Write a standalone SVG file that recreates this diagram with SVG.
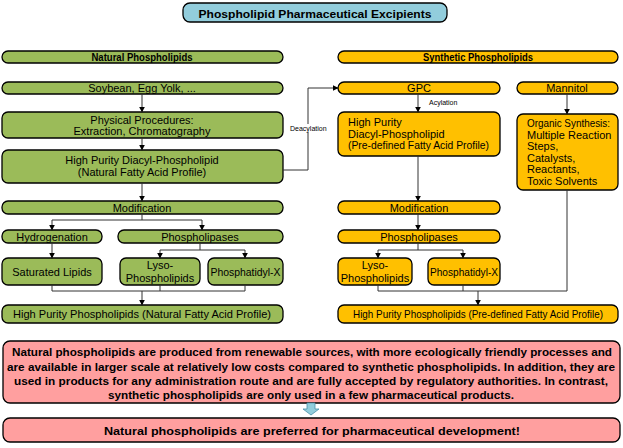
<svg xmlns="http://www.w3.org/2000/svg" width="623" height="448" viewBox="0 0 623 448">
<style>
text{font-family:"Liberation Sans",Arial,sans-serif;font-size:11px;fill:#000;text-anchor:middle}
.g{fill:#9BBB59;stroke:#000;stroke-width:1.3}
.o{fill:#FFC000;stroke:#000;stroke-width:1.3}
.r{fill:#FF9F9F;stroke:#000;stroke-width:1.3}
.b{font-weight:bold}
.l{text-anchor:start}
.c path{fill:none;stroke:#333;stroke-width:1}
.s{font-size:7px}
</style>
<defs><marker id="a" viewBox="0 0 10 10" refX="9" refY="5" markerWidth="6" markerHeight="6" orient="auto"><path d="M0,0L10,5L0,10z" fill="#000"/></marker></defs>
<g id="title"><rect x="183" y="3" width="264" height="19" rx="7" fill="#92CDDC" stroke="#000" stroke-width="1.3"/><text x="315" y="17.5" class="b" font-size="13" textLength="233" lengthAdjust="spacingAndGlyphs">Phospholipid Pharmaceutical Excipients</text></g>
<g id="nat"><rect class="g" x="2" y="51" width="281" height="12" rx="6"/><text x="142" y="61" class="b" font-size="10" textLength="101" lengthAdjust="spacingAndGlyphs">Natural Phospholipids</text></g>
<g id="soy"><rect class="g" x="2" y="82" width="281" height="12" rx="6"/><text x="142" y="92">Soybean, Egg Yolk, ...</text></g>
<g id="phys"><rect class="g" x="2" y="112" width="281" height="26" rx="6"/><text x="142" y="123.5">Physical Procedures:</text><text x="142" y="135">Extraction, Chromatography</text></g>
<g id="hpd"><rect class="g" x="2" y="150" width="281" height="33" rx="6"/><text x="142" y="164">High Purity Diacyl-Phospholipid</text><text x="142" y="176">(Natural Fatty Acid Profile)</text></g>
<g id="mod"><rect class="g" x="2" y="201" width="281" height="13" rx="6"/><text x="142" y="211.5">Modification</text></g>
<g id="hyd"><rect class="g" x="2" y="230" width="100" height="13" rx="6"/><text x="52" y="240.5">Hydrogenation</text></g>
<g id="pla"><rect class="g" x="118" y="230" width="165" height="13" rx="6"/><text x="200" y="240.5">Phospholipases</text></g>
<g id="sat"><rect class="g" x="2" y="258" width="100" height="27" rx="6"/><text x="52" y="275.5">Saturated Lipids</text></g>
<g id="lyso"><rect class="g" x="120" y="258" width="80" height="27" rx="6"/><text x="160" y="269">Lyso-</text><text x="160" y="281.5">Phospholipids</text></g>
<g id="px"><rect class="g" x="208" y="258" width="75" height="27" rx="6"/><text x="245.5" y="275.5" textLength="70" lengthAdjust="spacingAndGlyphs">Phosphatidyl-X</text></g>
<g id="hpn"><rect class="g" x="2" y="305" width="281" height="18" rx="6"/><text x="142" y="318" textLength="258" lengthAdjust="spacingAndGlyphs">High Purity Phospholipids (Natural Fatty Acid Profile)</text></g>
<g id="syn"><rect class="o" x="338" y="51" width="280" height="12" rx="6"/><text x="478" y="61" class="b" font-size="10" textLength="110" lengthAdjust="spacingAndGlyphs">Synthetic Phospholipids</text></g>
<g id="gpc"><rect class="o" x="338" y="82" width="162" height="12" rx="6"/><text x="419" y="92">GPC</text></g>
<g id="man"><rect class="o" x="517" y="82" width="101" height="12" rx="6"/><text x="567" y="92">Mannitol</text></g>
<g id="hps"><rect class="o" x="338" y="112" width="162" height="44" rx="6"/><text x="348" y="126" class="l">High Purity</text><text x="348" y="137.5" class="l">Diacyl-Phospholipid</text><text x="348" y="149" class="l" textLength="141" lengthAdjust="spacingAndGlyphs">(Pre-defined Fatty Acid Profile)</text></g>
<g id="org"><rect class="o" x="517" y="114" width="101" height="76" rx="6"/><text x="527" y="127" class="l" textLength="83" lengthAdjust="spacingAndGlyphs">Organic Synthesis:</text><text x="527" y="138.5" class="l">Multiple Reaction</text><text x="527" y="150" class="l">Steps,</text><text x="527" y="161.5" class="l">Catalysts,</text><text x="527" y="173" class="l">Reactants,</text><text x="527" y="184.5" class="l">Toxic Solvents</text></g>
<g id="mods"><rect class="o" x="338" y="201" width="162" height="13" rx="6"/><text x="419" y="211.5">Modification</text></g>
<g id="plas"><rect class="o" x="338" y="230" width="162" height="13" rx="6"/><text x="419" y="240.5">Phospholipases</text></g>
<g id="lysos"><rect class="o" x="338" y="258" width="74" height="27" rx="6"/><text x="375" y="269">Lyso-</text><text x="375" y="281.5">Phospholipids</text></g>
<g id="pxs"><rect class="o" x="428" y="258" width="72" height="27" rx="6"/><text x="464" y="275.5" textLength="68" lengthAdjust="spacingAndGlyphs">Phosphatidyl-X</text></g>
<g id="hpsy"><rect class="o" x="338" y="305" width="280" height="18" rx="6"/><text x="478" y="318" textLength="250" lengthAdjust="spacingAndGlyphs">High Purity Phospholipids (Pre-defined Fatty Acid Profile)</text></g>
<g id="note"><rect class="r" x="3" y="341" width="617" height="62" rx="7"/>
<g class="b" font-size="13"><text x="312" y="356" textLength="600" lengthAdjust="spacingAndGlyphs">Natural phospholipids are produced from renewable sources, with more ecologically friendly processes and</text><text x="311" y="370.5" textLength="608" lengthAdjust="spacingAndGlyphs">are available in larger scale at relatively low costs compared to synthetic phospholipids. In addition, they are</text><text x="311" y="385" textLength="594" lengthAdjust="spacingAndGlyphs">used in products for any administration route and are fully accepted by regulatory authorities. In contrast,</text><text x="311" y="399" textLength="406" lengthAdjust="spacingAndGlyphs">synthetic phospholipids are only used in a few pharmaceutical products.</text></g></g>
<g id="concl"><rect class="r" x="3" y="418" width="617" height="24" rx="7"/><text x="312" y="435" class="b" font-size="13" textLength="416" lengthAdjust="spacingAndGlyphs">Natural phospholipids are preferred for pharmaceutical development!</text></g>
<g class="c">
<path d="M142,94V112" marker-end="url(#a)"/>
<path d="M142,138V150" marker-end="url(#a)"/>
<path d="M142,183V201" marker-end="url(#a)"/>
<path d="M142,214V220M52,220H202"/>
<path d="M52,220V230" marker-end="url(#a)"/><path d="M202,220V230" marker-end="url(#a)"/>
<path d="M52,243V258" marker-end="url(#a)"/>
<path d="M200,243V250M160,250H245"/><path d="M160,250V258" marker-end="url(#a)"/><path d="M245,250V258" marker-end="url(#a)"/>
<path d="M52,285V291M160,285V291M245,285V291M52,291H245"/><path d="M142,291V305" marker-end="url(#a)"/>
<path d="M283,170H308V88H338" marker-end="url(#a)"/>
<path d="M418,94V112" marker-end="url(#a)"/>
<path d="M567,94V114" marker-end="url(#a)"/>
<path d="M418,156V201" marker-end="url(#a)"/>
<path d="M418,214V230" marker-end="url(#a)"/>
<path d="M418,243V250M378,250H463"/><path d="M378,250V258" marker-end="url(#a)"/><path d="M463,250V258" marker-end="url(#a)"/>
<path d="M378,285V291M463,285V291M567,190V291M378,291H567"/><path d="M478,291V305" marker-end="url(#a)"/>
</g>
<rect x="289" y="124" width="39" height="8" fill="#fff"/>
<text x="290" y="130.5" class="s l">Deacylation</text>
<text x="429" y="105" class="s l">Acylation</text>
<path d="M307,403H315V409H319L311,415L303,409H307Z" fill="#92CDDC" stroke="#4a90a8" stroke-width="0.8"/>
</svg>
